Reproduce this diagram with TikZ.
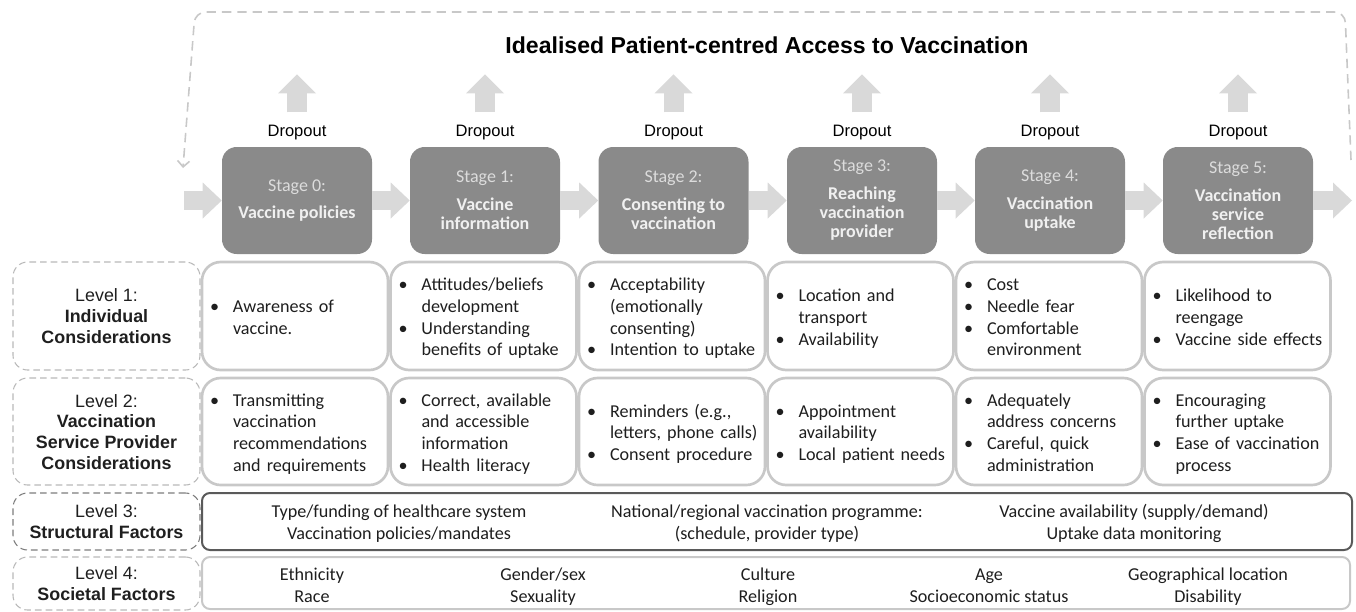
\documentclass[tikz,border=0pt]{standalone}
\usepackage{fontspec}
\setmainfont{Carlito}
\newfontfamily\arialfont{Liberation Sans}
\usepackage{tikz}
\usetikzlibrary{arrows.meta}

\definecolor{stagefill}{RGB}{138,138,138}
\definecolor{stagetext}{RGB}{220,220,220}
\definecolor{arrowgray}{RGB}{217,217,217}
\definecolor{cellline}{RGB}{200,200,200}
\definecolor{dashline}{RGB}{185,185,185}
\definecolor{darkdash}{RGB}{125,125,125}
\definecolor{darkline}{RGB}{90,90,90}
\definecolor{celltext}{RGB}{30,30,30}

\newcommand{\bu}{\makebox[17.25pt][l]{\textbullet}}
\newcommand{\nb}{\hspace*{17.25pt}}
\newcommand{\itemlist}[1]{\raisebox{-2.25pt}[\height][\depth]{\begin{tabular}{@{}l@{}}#1\end{tabular}}}
\newcommand{\centrelist}[1]{\raisebox{-1.8pt}[\height][\depth]{\begin{tabular}{@{}c@{}}#1\end{tabular}}}

\begin{document}
\begin{tikzpicture}[x=0.75pt,y=-0.75pt,
  stage/.style={fill=stagefill,rounded corners=11pt,minimum width=112.5pt,minimum height=80.25pt,
    align=center,text=white!94!black,font=\fontsize{13.5}{14.3}\selectfont,inner sep=2pt},
  dropout/.style={font=\arialfont\fontsize{12.4}{14}\selectfont,inner sep=0pt},
  droparrow/.style={draw=arrowgray,line width=15pt,-{Triangle[line width=0pt,width=28.5pt,length=14.25pt]}},
  flowarrow/.style={draw=arrowgray,line width=14.25pt,-{Triangle[line width=0pt,width=27pt,length=14.25pt]}},
  feedback/.style={draw=cellline,line width=1.2pt,dash pattern=on 7pt off 4.5pt,rounded corners=8pt,
    -{Straight Barb[length=4.5pt,width=9pt]}},
  levelbox/.style={draw=dashline,line width=0.8pt,dash pattern=on 5pt off 3pt,rounded corners=11pt,
    minimum width=140.25pt,align=center,text=black!88,font=\arialfont\fontsize{13.4}{15.5}\selectfont},
  cell/.style={draw=cellline,line width=2pt,rounded corners=14pt,minimum height=80.25pt,
    text width=127.5pt,inner xsep=6pt,align=left,text=celltext,font=\fontsize{13.6}{16.3}\selectfont},
  factor/.style={align=center,text=celltext,font=\fontsize{13.6}{16.3}\selectfont}
]
\useasboundingbox (0,0) rectangle (1356,611);

% title and feedback loop
\node [font=\arialfont\bfseries\fontsize{17.3}{20}\selectfont] (title) at (767,45) {Idealised Patient-centred Access to Vaccination};
\coordinate (fbstart) at (1351,160);
\coordinate (fbend) at (183,168);
\draw [feedback] (fbstart) -- (1345,12) -- (195,12) -- (fbend);

% stages
\node [stage] (s0) at (297,200.5) {{\color{stagetext}Stage 0:}\\[6.5pt]\textbf{Vaccine policies}};
\node [stage] (s1) at (485,200.5) {{\color{stagetext}Stage 1:}\\[6.5pt]\textbf{Vaccine}\\\textbf{information}};
\node [stage] (s2) at (673.5,200.5) {{\color{stagetext}Stage 2:}\\[6.5pt]\textbf{Consenting to}\\\textbf{vaccination}};
\node [stage] (s3) at (862,200.5) {{\color{stagetext}Stage 3:}\\[6.5pt]\textbf{Reaching}\\\textbf{vaccination}\\\textbf{provider}};
\node [stage] (s4) at (1050,200.5) {{\color{stagetext}Stage 4:}\\[6.5pt]\textbf{Vaccination}\\\textbf{uptake}};
\node [stage] (s5) at (1238,200.5) {{\color{stagetext}Stage 5:}\\[6.5pt]\textbf{Vaccination}\\\textbf{service}\\\textbf{reflection}};

% dropouts
\node [dropout] (d0) at (297,133) {Dropout};
\node [dropout] (d1) at (485,133) {Dropout};
\node [dropout] (d2) at (673.5,133) {Dropout};
\node [dropout] (d3) at (862,133) {Dropout};
\node [dropout] (d4) at (1050,133) {Dropout};
\node [dropout] (d5) at (1238,133) {Dropout};
\draw [droparrow] ([yshift=9.75pt]d0.north) -- ++(0,-38);
\draw [droparrow] ([yshift=9.75pt]d1.north) -- ++(0,-38);
\draw [droparrow] ([yshift=9.75pt]d2.north) -- ++(0,-38);
\draw [droparrow] ([yshift=9.75pt]d3.north) -- ++(0,-38);
\draw [droparrow] ([yshift=9.75pt]d4.north) -- ++(0,-38);
\draw [droparrow] ([yshift=9.75pt]d5.north) -- ++(0,-38);

% flow
\coordinate (inflow) at (184,200.5);
\coordinate (outflow) at (1352,200.5);
\draw [flowarrow] (inflow) -- (s0.west);
\draw [flowarrow] (s0.east) -- (s1.west);
\draw [flowarrow] (s1.east) -- (s2.west);
\draw [flowarrow] (s2.east) -- (s3.west);
\draw [flowarrow] (s3.east) -- (s4.west);
\draw [flowarrow] (s4.east) -- (s5.west);
\draw [flowarrow] (s5.east) -- (outflow);

% level labels
\node [levelbox,minimum height=81pt] (l1) at (106.5,316) {\centrelist{Level 1:\\\textbf{Individual}\\\textbf{Considerations}}};
\node [levelbox,minimum height=80.25pt] (l2) at (106.5,431.5) {\centrelist{Level 2:\\\textbf{Vaccination}\\\textbf{Service Provider}\\\textbf{Considerations}}};
\node [levelbox,draw=darkdash,minimum height=42.75pt] (l3) at (106.5,521.5) {\centrelist{Level 3:\\\textbf{Structural Factors}}};
\node [levelbox,minimum height=39.75pt] (l4) at (106.5,583.5) {\centrelist{Level 4:\\\textbf{Societal Factors}}};

% level 1 cells
\node [cell,minimum height=81pt] (c10) at (295,316) {\itemlist{\bu Awareness of\\\nb vaccine.}};
\node [cell,minimum height=81pt] (c11) at (483.5,316) {\itemlist{\bu Attitudes/beliefs\\\nb development\\\bu Understanding\\\nb benefits of uptake}};
\node [cell,minimum height=81pt] (c12) at (672,316) {\itemlist{\bu Acceptability\\\nb (emotionally\\\nb consenting)\\\bu Intention to uptake}};
\node [cell,minimum height=81pt] (c13) at (860.5,316) {\itemlist{\bu Location and\\\nb transport\\\bu Availability}};
\node [cell,minimum height=81pt] (c14) at (1049,316) {\itemlist{\bu Cost\\\bu Needle fear\\\bu Comfortable\\\nb environment}};
\node [cell,minimum height=81pt] (c15) at (1237.5,316) {\itemlist{\bu Likelihood to\\\nb reengage\\\bu Vaccine side effects}};

% level 2 cells
\node [cell] (c20) at (295,431.5) {\itemlist{\bu Transmitting\\\nb vaccination\\\nb recommendations\\\nb and requirements}};
\node [cell] (c21) at (483.5,431.5) {\itemlist{\bu Correct, available\\\nb and accessible\\\nb information\\\bu Health literacy}};
\node [cell] (c22) at (672,431.5) {\itemlist{\bu Reminders (e.g.,\\\nb letters, phone calls)\\\bu Consent procedure}};
\node [cell] (c23) at (860.5,431.5) {\itemlist{\bu Appointment\\\nb availability\\\bu Local patient needs}};
\node [cell] (c24) at (1049,431.5) {\itemlist{\bu Adequately\\\nb address concerns\\\bu Careful, quick\\\nb administration}};
\node [cell] (c25) at (1237.5,431.5) {\itemlist{\bu Encouraging\\\nb further uptake\\\bu Ease of vaccination\\\nb process}};

% level 3 and 4 bands
\node [draw=darkline,line width=1.5pt,rounded corners=6pt,minimum width=862.5pt,minimum height=42.75pt] (band3) at (777,521.5) {};
\node [draw=cellline,line width=1.5pt,rounded corners=6pt,minimum width=861pt,minimum height=39pt] (band4) at (776,583) {};
\node [factor] (st1) at (399,521.5) {\centrelist{Type/funding of healthcare system\\Vaccination policies/mandates}};
\node [factor] (st2) at (767,521.5) {\centrelist{National/regional vaccination programme:\\(schedule, provider type)}};
\node [factor] (st3) at (1134,521.5) {\centrelist{Vaccine availability (supply/demand)\\Uptake data monitoring}};
\node [factor] (so1) at (312,585) {\centrelist{Ethnicity\\Race}};
\node [factor] (so2) at (543,585) {\centrelist{Gender/sex\\Sexuality}};
\node [factor] (so3) at (768,585) {\centrelist{Culture\\Religion}};
\node [factor] (so4) at (989,585) {\centrelist{Age\\Socioeconomic status}};
\node [factor] (so5) at (1208,585) {\centrelist{Geographical location\\Disability}};
\end{tikzpicture}
\end{document}
